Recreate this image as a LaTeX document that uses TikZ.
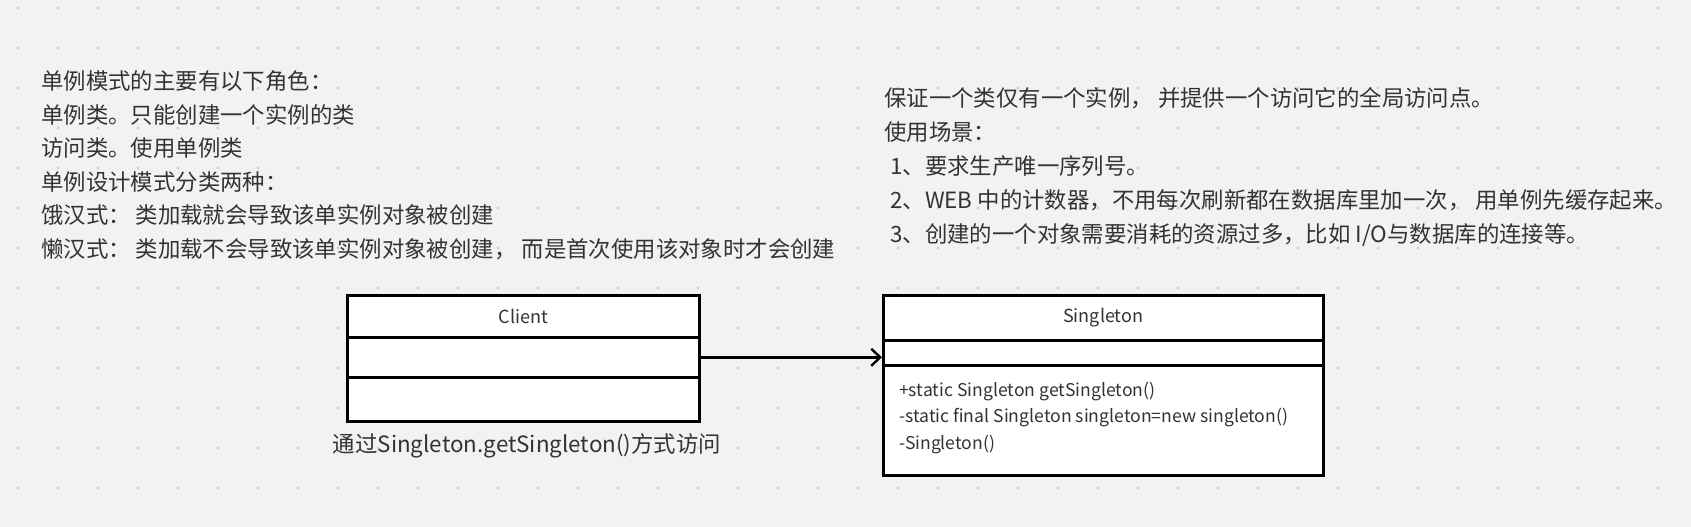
\documentclass[tikz,border=0pt]{standalone}
\usepackage{fontspec}
\newfontfamily\cjk{Noto Sans CJK SC}
\usetikzlibrary{arrows.meta}
\definecolor{bg}{RGB}{242,242,245}
\definecolor{dotc}{RGB}{198,198,204}
\definecolor{txt}{RGB}{51,51,51}
\begin{document}
\begin{tikzpicture}[x=1pt,y=-1pt,
  note/.style={anchor=base west, inner sep=0pt, text=txt, font=\cjk\fontsize{22.4}{26}\selectfont},
  comp/.style={draw=black, line width=2.6pt, fill=white, inner sep=0pt, anchor=north west},
  title/.style={inner sep=0pt, text=txt, font=\cjk\fontsize{18}{22}\selectfont},
  member/.style={anchor=base west, inner sep=0pt, text=txt, font=\cjk\fontsize{17.6}{22}\selectfont},
  caption/.style={anchor=base, inner sep=0pt, text=txt, font=\cjk\fontsize{22.4}{28}\selectfont},
  link/.style={draw=black, line width=2.4pt, -{Straight Barb[length=9pt,width=17pt]}}
]
\useasboundingbox (0,0) rectangle (1691,527);
\fill[bg] (0,0) rectangle (1691,527);
\foreach \i in {0,...,41}{
  \foreach \j in {0,...,13}{
    \fill[dotc] ({18+40*\i-1.4},{8+40*\j-1.4}) rectangle ++(2.8,2.8);
  }
}
% left notes
\node[note] (l1) at (41,89.4) {单例模式的主要有以下角色：};
\node[note] (l2) at (41,123) {单例类。只能创建一个实例的类};
\node[note] (l3) at (41,156.6) {访问类。使用单例类};
\node[note] (l4) at (41,190.2) {单例设计模式分类两种：};
\node[note] (l5) at (41,223.8) {饿汉式： 类加载就会导致该单实例对象被创建};
\node[note] (l6) at (41,257.4) {懒汉式： 类加载不会导致该单实例对象被创建， 而是首次使用该对象时才会创建};
% right notes
\node[note] (r1) at (884,106.4) {保证一个类仅有一个实例， 并提供一个访问它的全局访问点。};
\node[note] (r2) at (884,140.4) {使用场景：};
\node[note] (r3) at (890,174.4) {1、要求生产唯一序列号。};
\node[note] (r4) at (890,208.4) {2、WEB 中的计数器，不用每次刷新都在数据库里加一次， 用单例先缓存起来。};
\node[note] (r5) at (890,242.4) {3、创建的一个对象需要消耗的资源过多，比如 I/O与数据库的连接等。};
% Client class
\node[comp, minimum width=352pt, minimum height=42pt] (cname) at (346,294) {};
\node[comp, minimum width=352pt, minimum height=40pt] (cattr) at (346,336) {};
\node[comp, minimum width=352pt, minimum height=44pt] (cmeth) at (346,376) {};
\node[title] (ctitle) at (cname.center) {Client};
\node[caption] (clabel) at (527,452) {通过Singleton.getSingleton()方式访问};
% Singleton class
\node[comp, minimum width=440pt, minimum height=45pt] (sname) at (882,294) {};
\node[comp, minimum width=440pt, minimum height=25pt] (sattr) at (882,339) {};
\node[comp, minimum width=440pt, minimum height=110pt] (smeth) at (882,364) {};
\node[title] (stitle) at (sname.center) {Singleton};
\node[member] (m1) at (899,396) {+static Singleton getSingleton()};
\node[member] (m2) at (899,422.5) {-static final Singleton singleton=new singleton()};
\node[member] (m3) at (899,449) {-Singleton()};
% association
\draw[link] (cattr.east) -- (cattr.east -| sattr.west);
\end{tikzpicture}
\end{document}
